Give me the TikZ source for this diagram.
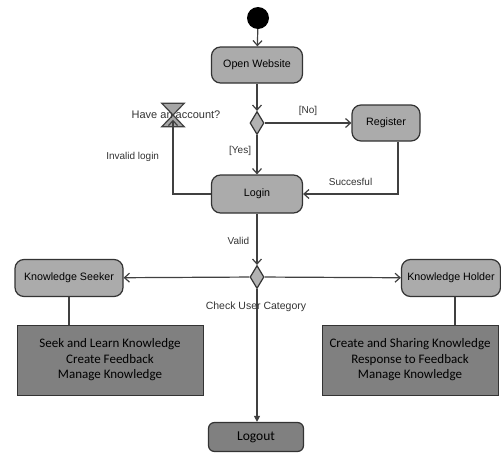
\documentclass[tikz,border=0pt]{standalone}
\usepackage{fontspec}
\setmainfont{Liberation Sans}
\newfontfamily\boxfont{Carlito}
\usetikzlibrary{arrows.meta,shapes.geometric}

\begin{document}
\begin{tikzpicture}[
            x=1pt, y=-1pt,
            >={Straight Barb[length=5pt,width=9pt]},
            act_node/.style={
                draw=black!80, line width=1.2pt, fill=black!33,
                rounded corners=9pt, inner sep=0pt,
                font=\fontsize{10.7}{12}\selectfont
            },
            task_node/.style={
                draw=black!80, line width=0.8pt, fill=black!50,
                inner sep=0pt, align=center,
                font=\boxfont\fontsize{13}{15.5}\selectfont
            },
            choice_node/.style={
                diamond, draw=black!80, line width=1.2pt, fill=black!30,
                inner sep=0pt, minimum width=14pt, minimum height=23pt
            },
            arrow_style/.style={->, draw=black!75, line width=1.2pt},
            link_style/.style={draw=black!75, line width=1.2pt},
            lbl/.style={font=\fontsize{10}{12}\selectfont, text=black!80}
        ]
        \useasboundingbox (0,0) rectangle (501,453);

        % Start and first activity
        \node (start) [circle, fill=black, inner sep=0pt, minimum size=22pt] at (258,18) {};
        \node (open) [act_node, minimum width=91pt, minimum height=36pt] at (257,65) {Open Website};

        % Account decision
        \node (askacc) [choice_node] at (257,123) {};
        \node (register) [act_node, minimum width=68pt, minimum height=36pt] at (386,123) {Register};
        \node (login) [act_node, minimum width=91pt, minimum height=38pt] at (257,194) {Login};
        \node (wait) [minimum width=22pt, minimum height=23pt, inner sep=0pt] at (173,115) {};
        \draw[link_style, fill=black!35, line join=miter]
            (wait.north west) -- (wait.north east) -- (wait.south west) -- (wait.south east) -- cycle;
        \node (waitlbl) [lbl, font=\fontsize{11}{13}\selectfont] at (176,115) {Have an account?};

        % User category decision
        \node (askcat) [choice_node] at (257,277) {};
        \node (seeker) [act_node, minimum width=108pt, minimum height=37pt] at (69,278) {Knowledge Seeker};
        \node (holder) [act_node, minimum width=99pt, minimum height=37pt] at (451,278) {Knowledge Holder};
        \node (seektask) [task_node, minimum width=186pt, minimum height=70pt] at (110,360)
            {Seek and Learn Knowledge\\Create Feedback\\Manage Knowledge};
        \node (holdtask) [task_node, minimum width=176pt, minimum height=70pt] at (410,360)
            {Create and Sharing Knowledge\\Response to Feedback\\Manage Knowledge};
        \node (logout) [act_node, fill=black!50, rounded corners=6pt, minimum width=95pt, minimum height=29pt,
            font=\boxfont\fontsize{13.5}{15}\selectfont] at (256,437) {Logout};

        % Flows
        \draw[arrow_style] (start) -- (open);
        \draw[arrow_style] (open) -- (askacc);
        \draw[arrow_style] (askacc) -- (register) node[lbl, midway, above=3pt] {[No]};
        \draw[arrow_style] (askacc) -- (login) node[lbl, midway, left=2pt, yshift=4pt] {[Yes]};
        \draw[arrow_style] ([xshift=12pt]register.south) |- (login.east)
            node[lbl, pos=0.75, above=4pt] {Succesful};
        \draw[arrow_style] (login.west) -| ([yshift=7pt]wait.south)
            node[lbl, pos=0.75, left=10pt] {Invalid login};
        \draw[arrow_style] (login) -- (askcat) node[lbl, midway, left=4pt, yshift=-2pt] {Valid};
        \draw[arrow_style] (askcat) -- (seeker);
        \draw[arrow_style] (askcat) -- (holder);
        \draw[link_style] (seeker.south) -- (seeker.south |- seektask.north);
        \draw[link_style] ([xshift=4pt]holder.south) -- ([xshift=4pt]holder.south |- holdtask.north);
        \draw[link_style, -{Triangle[length=6pt,width=6pt]}] (askcat) -- (askcat |- logout.north);
        \node (catlbl) [lbl, font=\fontsize{10.5}{12}\selectfont] at (256,307) {Check User Category};
        \end{tikzpicture}
\end{document}
